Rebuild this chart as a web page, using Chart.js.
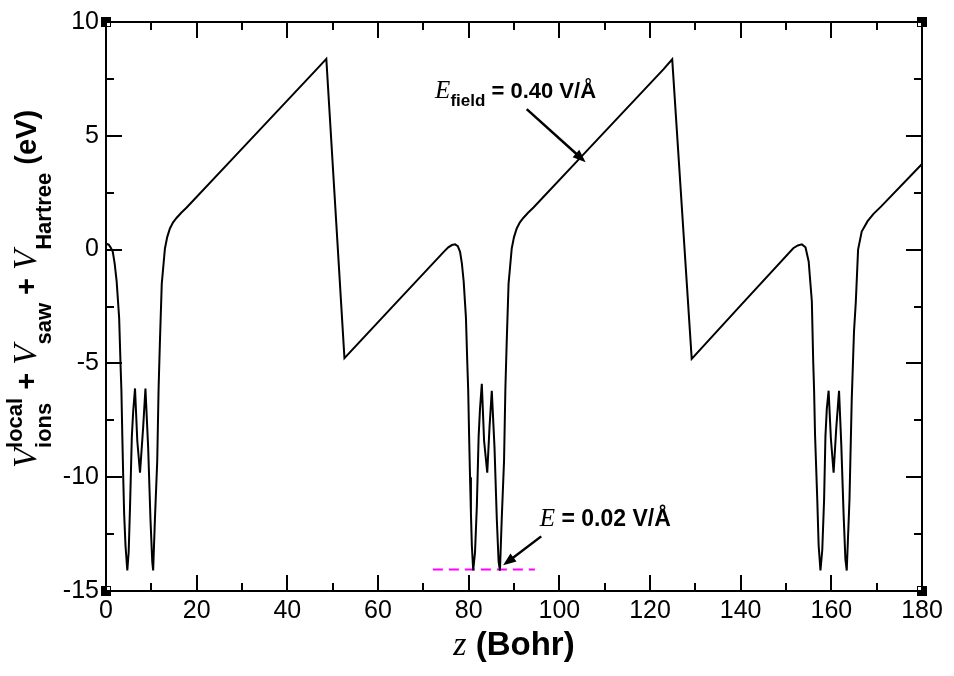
<!DOCTYPE html>
<html>
<head>
<meta charset="utf-8">
<script src="https://cdn.jsdelivr.net/npm/chart.js@4.4.1/dist/chart.umd.min.js"></script>
<style>
  body { margin: 0; background: #fff; }
  #wrap { width: 954px; height: 676px; }
</style>
</head>
<body>
<div id="wrap"><canvas id="myChart" width="954" height="676"></canvas></div>
<script>
// z in Bohr, potential in eV
const zBohr = [
  0, 0.3, 0.6, 1.0, 1.5, 1.9, 2.35, 2.9, 3.2, 3.4, 3.6, 3.8, 4.0, 4.3, 4.7, 5.0, 5.3, 5.7, 6.0, 6.4,
  6.9, 7.5, 8.2, 8.7, 9.3, 9.8, 10.2, 10.4, 10.8, 11.3, 11.6, 11.9, 12.3, 13.0, 13.5, 14.1, 14.8, 15.6,
  16.6, 17.8, 28.1, 46.5, 48.6, 52.6,
  63.0, 74.5, 75.5, 76.3, 77.0, 77.6, 78.1, 78.5, 78.9, 79.4, 79.7, 79.9, 80.1, 80.3, 80.5, 80.7, 81.0,
  81.4, 81.8, 82.2, 82.5, 82.9, 83.4, 84.1, 84.6, 85.1, 85.7, 86.2, 86.6, 86.9, 87.3, 87.8, 88.1, 88.4,
  88.8, 89.5, 90.0, 90.6, 91.3, 92.1, 93.1, 94.3, 104.6, 123.0, 124.9, 129.2,
  140.0, 151.6, 152.6, 153.5, 154.3, 155.0, 155.7, 156.0, 156.2, 156.4, 156.9, 157.2, 157.6, 158.0,
  158.4, 158.7, 159.0, 159.4, 159.9, 160.5, 161.1, 161.7, 162.2, 162.7, 163.1, 163.4, 164.0, 164.5,
  165.0, 165.4, 165.9, 166.7, 168.0, 169.3, 171.0, 180.0
];
const vPot = [
  0.20, 0.24, 0.22, 0.10, -0.10, -0.60, -1.4, -3.0, -5.0, -6.2, -8.2, -10.0, -11.6, -13.0, -14.1, -13.3, -11.3, -8.2, -7.1, -6.1,
  -8.4, -9.8, -7.8, -6.1, -8.7, -11.8, -13.7, -14.1, -11.8, -9.3, -6.1, -4.0, -1.5, 0.05, 0.55, 0.93, 1.2, 1.4,
  1.62, 1.85, 4.03, 7.93, 8.38, -4.77,
  -2.55, -0.10, 0.10, 0.20, 0.23, 0.15, -0.10, -0.60, -1.4, -3.0, -5.0, -6.2, -8.2, -10.0, -11.6, -13.0, -14.1,
  -13.3, -11.3, -8.2, -7.0, -5.9, -8.4, -9.8, -7.8, -6.2, -8.7, -11.8, -13.7, -14.1, -11.8, -9.3, -6.1, -4.0,
  -1.5, 0.05, 0.55, 0.93, 1.2, 1.4, 1.62, 1.85, 4.03, 7.93, 8.36, -4.80,
  -2.45, 0.06, 0.18, 0.23, 0.10, -0.52, -2.27, -4.9, -6.2, -8.1, -11.0, -13.0, -14.1, -13.2,
  -11.0, -8.2, -7.0, -6.2, -8.3, -9.8, -7.8, -6.2, -8.6, -11.6, -13.6, -14.1, -11.0, -6.6,
  -3.6, -2.3, 0.0, 0.79, 1.25, 1.57, 1.9, 3.76
];

// magenta dashed level
const levelZ = [72.1, 94.6];
const levelV = [-14.05, -14.05];

const xMin = 0, xMax = 180, xStep = 20;
const yMin = -15, yMax = 10, yStep = 5;

const SANS = '"Liberation Sans", Arial, Helvetica, sans-serif';
const SERIF = '"Liberation Serif", "Times New Roman", serif';

function drawParts(ctx, parts, x, y) {
  let cx = x;
  parts.forEach(p => {
    ctx.font = p.font;
    ctx.fillText(p.t, cx, y + (p.dy || 0));
    cx += ctx.measureText(p.t).width;
  });
}

function partsWidth(ctx, parts) {
  let w = 0;
  parts.forEach(p => { ctx.font = p.font; w += ctx.measureText(p.t).width; });
  return w;
}

function arrow(ctx, x1, y1, x2, y2) {
  const ang = Math.atan2(y2 - y1, x2 - x1);
  const hl = 13, hw = 5;
  ctx.beginPath();
  ctx.moveTo(x1, y1);
  ctx.lineTo(x2 - hl * Math.cos(ang) * 0.8, y2 - hl * Math.sin(ang) * 0.8);
  ctx.stroke();
  ctx.beginPath();
  ctx.moveTo(x2, y2);
  ctx.lineTo(x2 - hl * Math.cos(ang) + hw * Math.sin(ang), y2 - hl * Math.sin(ang) - hw * Math.cos(ang));
  ctx.lineTo(x2 - hl * Math.cos(ang) - hw * Math.sin(ang), y2 - hl * Math.sin(ang) + hw * Math.cos(ang));
  ctx.closePath();
  ctx.fill();
}

const gracePlugin = {
  id: 'grace',
  afterDraw(chart) {
    const { ctx, chartArea: a } = chart;
    const xs = chart.scales.x, ys = chart.scales.y;
    ctx.save();
    ctx.strokeStyle = '#000';
    ctx.fillStyle = '#000';
    ctx.lineWidth = 2;
    ctx.lineCap = 'butt';
    ctx.strokeRect(a.left, a.top, a.right - a.left, a.bottom - a.top);

    ctx.beginPath();
    for (let v = xMin; v <= xMax; v += xStep / 2) {
      const len = (v % xStep === 0) ? 16 : 8;
      const px = Math.round(xs.getPixelForValue(v));
      ctx.moveTo(px, a.bottom); ctx.lineTo(px, a.bottom - len);
      ctx.moveTo(px, a.top); ctx.lineTo(px, a.top + len);
    }
    for (let v = yMin; v <= yMax; v += yStep / 2) {
      const len = (Math.abs(v % yStep) < 1e-9) ? 16 : 8;
      const py = Math.round(ys.getPixelForValue(v));
      ctx.moveTo(a.left, py); ctx.lineTo(a.left + len, py);
      ctx.moveTo(a.right, py); ctx.lineTo(a.right - len, py);
    }
    ctx.stroke();

    // corner markers
    [[a.left, a.top, 1, 1], [a.right, a.top, -1, 1], [a.left, a.bottom, 1, -1], [a.right, a.bottom, -1, -1]]
      .forEach(([cx, cy, sx, sy]) => {
        ctx.fillStyle = '#000';
        ctx.fillRect(cx - 5, cy - 5, 10, 10);
        ctx.fillStyle = '#fff';
        ctx.fillRect(cx + (sx > 0 ? 1 : -4), cy + (sy > 0 ? 1 : -4), 3, 3);
      });
    ctx.fillStyle = '#000';

    // annotations
    ctx.textBaseline = 'alphabetic';
    ctx.textAlign = 'left';
    drawParts(ctx, [
      { t: 'E', font: 'italic 25px ' + SERIF },
      { t: 'field', font: 'bold 17px ' + SANS, dy: 8 },
      { t: ' = 0.40 V/Å', font: 'bold 22px ' + SANS }
    ], xs.getPixelForValue(72.6), ys.getPixelForValue(6.68));
    ctx.lineWidth = 2.5;
    arrow(ctx, xs.getPixelForValue(92.8), ys.getPixelForValue(6.17),
      xs.getPixelForValue(105.8), ys.getPixelForValue(3.84));

    drawParts(ctx, [
      { t: 'E', font: 'italic 25px ' + SERIF },
      { t: ' = 0.02 V/Å', font: 'bold 23px ' + SANS }
    ], xs.getPixelForValue(95.7), ys.getPixelForValue(-12.14));
    arrow(ctx, xs.getPixelForValue(96.0), ys.getPixelForValue(-12.6),
      xs.getPixelForValue(87.6), ys.getPixelForValue(-13.87));

    // x title
    const xt = [
      { t: 'z', font: 'italic 34px ' + SERIF },
      { t: ' (Bohr)', font: 'bold 33px ' + SANS }
    ];
    const xw = partsWidth(ctx, xt);
    drawParts(ctx, xt, (a.left + a.right) / 2 - xw / 2, 655);

    // y title, rotated
    ctx.save();
    ctx.translate(36, 289);
    ctx.rotate(-Math.PI / 2);
    const fV = 'italic 33px ' + SERIF;
    const fS = 'bold 22px ' + SANS;
    const fP = 'bold 29px ' + SANS;
    ctx.font = fS;
    const wLoc = Math.max(ctx.measureText('local').width, ctx.measureText('ions').width);
    const rest = [
      { t: ' + ', font: fP },
      { t: 'V', font: fV },
      { t: 'saw', font: fS, dy: 15 },
      { t: ' + ', font: fP },
      { t: 'V', font: fV },
      { t: 'Hartree', font: fS, dy: 15 },
      { t: ' (eV)', font: fP }
    ];
    ctx.font = fV;
    const wV = ctx.measureText('V').width;
    const total = wV + wLoc + partsWidth(ctx, rest);
    let sx = -total / 2;
    ctx.font = fV;
    ctx.fillText('V', sx, 0);
    sx += wV;
    ctx.font = fS;
    ctx.fillText('local', sx, -14);
    ctx.fillText('ions', sx, 15);
    sx += wLoc;
    drawParts(ctx, rest, sx, 0);
    ctx.restore();

    ctx.restore();
  }
};

const ctx = document.getElementById('myChart');

const myChart = new Chart(ctx, {
  type: 'line',
  data: {
    datasets: [
      {
        label: 'potential',
        data: zBohr.map((z, i) => ({ x: z, y: vPot[i] })),
        borderColor: '#000',
        borderWidth: 2,
        pointRadius: 0,
        tension: 0,
        fill: false
      },
      {
        label: 'level',
        data: levelZ.map((z, i) => ({ x: z, y: levelV[i] })),
        borderColor: '#ff00ff',
        borderWidth: 2,
        borderDash: [10, 6],
        pointRadius: 0,
        fill: false
      }
    ]
  },
  options: {
    responsive: false,
    animation: false,
    layout: { padding: { top: 19, right: 32, left: 0, bottom: 0 } },
    plugins: { legend: { display: false }, tooltip: { enabled: false } },
    scales: {
      x: {
        type: 'linear',
        min: xMin,
        max: xMax,
        grid: { display: false, drawTicks: false },
        border: { display: false },
        ticks: { stepSize: xStep, padding: 5, color: '#000', font: { family: SANS, size: 25 } },
        afterFit(scale) { scale.height = 85; }
      },
      y: {
        min: yMin,
        max: yMax,
        grid: { display: false, drawTicks: false },
        border: { display: false },
        ticks: { stepSize: yStep, padding: 7, color: '#000', font: { family: SANS, size: 25 } },
        afterFit(scale) { scale.width = 106; }
      }
    }
  },
  plugins: [gracePlugin]
});
</script>
</body>
</html>
